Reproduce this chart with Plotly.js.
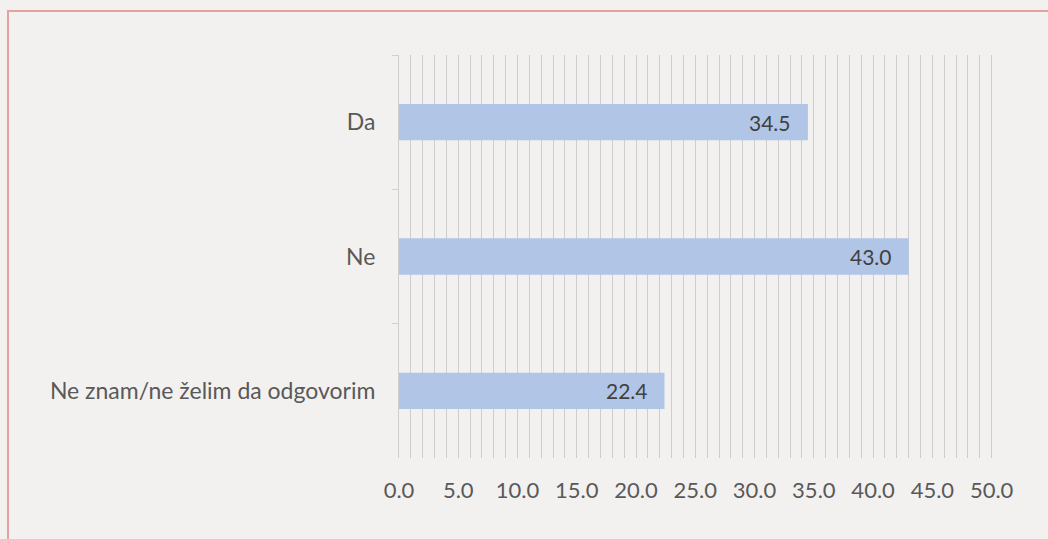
<!DOCTYPE html>
<html>
<head>
<meta charset="utf-8">
<script src="https://cdn.plot.ly/plotly-3.0.1.min.js"></script>
<style>
  html, body { margin:0; padding:0; background:#f2f1ef; overflow:hidden; }
  #frame { position:absolute; left:7px; top:10px; width:1100px; height:600px;
           border:2px solid #e2a39e; box-sizing:border-box; pointer-events:none; z-index:2; }
  #chart { position:absolute; left:0; top:0; width:1048px; height:539px; }
</style>
</head>
<body>
<div id="chart"></div>
<div id="frame"></div>
<script>
const categories = ["Da", "Ne", "Ne znam/ne želim da odgovorim"];
const values = [34.5, 43.0, 22.4];
const labels = ["34.5", "43.0", "22.4"];
const xTickVals = [0, 5, 10, 15, 20, 25, 30, 35, 40, 45, 50];
const xTickText = ["0.0", "5.0", "10.0", "15.0", "20.0", "25.0", "30.0", "35.0", "40.0", "45.0", "50.0"];

const FONT = "Lato, 'Open Sans', sans-serif";

const trace = {
  type: "bar",
  orientation: "h",
  y: categories,
  x: values,
  marker: { color: "#b1c5e6", line: { width: 0 } },
  width: 0.27,
  hoverinfo: "none"
};

const annotations = values.map((v, i) => ({
  x: v, y: categories[i], xref: "x", yref: "y",
  text: labels[i], showarrow: false, xanchor: "right", yanchor: "middle",
  xshift: -15, font: { family: FONT, size: 21, color: "#404040" }
}));

const layout = {
  width: 1048, height: 539,
  margin: { l: 399, r: 54, t: 55, b: 81, pad: 0 },
  paper_bgcolor: "rgba(0,0,0,0)",
  plot_bgcolor: "rgba(0,0,0,0)",
  showlegend: false,
  font: { family: FONT, size: 20, color: "#595959" },
  xaxis: {
    range: [0, 50.2],
    tickmode: "array", tickvals: xTickVals, ticktext: xTickText,
    showgrid: true, gridcolor: "#cdcdcd", gridwidth: 1,
    minor: { dtick: 1, tick0: 0, showgrid: true, gridcolor: "#cdcdcd", gridwidth: 1 },
    zeroline: false, showline: false, ticks: "",
    ticklabelstandoff: 17,
    tickfont: { family: FONT, size: 22, color: "#595959" },
    fixedrange: true
  },
  yaxis: {
    autorange: "reversed", type: "category",
    showline: true, linecolor: "#cfcfcf", linewidth: 1,
    ticks: "outside", tickson: "boundaries", ticklen: 6, tickcolor: "#cfcfcf",
    showgrid: false, zeroline: false,
    ticklabelstandoff: 18,
    tickfont: { family: FONT, size: 23, color: "#595959" },
    fixedrange: true
  },
  annotations: annotations
};

Plotly.newPlot("chart", [trace], layout, { displayModeBar: false, staticPlot: true });
</script>
</body>
</html>
